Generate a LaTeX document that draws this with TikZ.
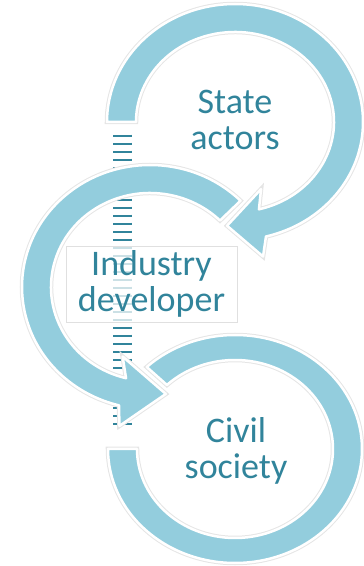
\documentclass[tikz,border=0pt]{standalone}
\usepackage{fontspec}
\setmainfont{Carlito}
\usepackage{xcolor}
\usepackage{tikz}
\definecolor{ringblue}{HTML}{93CDDD}
\definecolor{tealtext}{HTML}{31849B}

\begin{document}
\begin{tikzpicture}[x=1pt,y=1pt]
    \tikzset{ringband/.style={fill=ringblue, draw=white, line width=2.5pt, line join=round,
             preaction={draw=black!10, line width=4.5pt}},
             ringtext/.style={font=\fontsize{36}{36}\selectfont, text=tealtext, align=center, inner sep=0pt}}
    \useasboundingbox (0,0) rectangle (364,566);

    % centres
    \coordinate (ctop) at (235,444);
    \coordinate (cmid) at (150,279);
    \coordinate (cbot) at (235,117);

    % ladder
    \coordinate (ladtop) at (122,431.3);
    \coordinate (ladbot) at (122,141.3);
    \draw[tealtext, line width=19pt, dash pattern=on 2pt off 6pt] (ladtop) -- (ladbot);

    % bottom ring
    \path[ringband] ([shift={(cbot)}]180:127 and 114)
        arc[start angle=180, end angle=494, x radius=127, y radius=114]
        -- ([shift={(cbot)}]494:98 and 89)
        arc[start angle=494, end angle=180, x radius=98, y radius=89] -- cycle;

    % middle ring
    \path[ringband] ([shift={(cmid)}]45:128 and 122)
        arc[start angle=45, end angle=256, x radius=128, y radius=122]
        -- ([shift={(cmid)}]258:147 and 142)
        -- ([shift={(cmid)}]278:113.5 and 108)
        -- ([shift={(cmid)}]250:80 and 74)
        -- ([shift={(cmid)}]256:99 and 94)
        arc[start angle=256, end angle=45, x radius=99, y radius=94] -- cycle;

    % top ring
    \path[ringband] ([shift={(ctop)}]180:128 and 118)
        arc[start angle=180, end angle=-76, x radius=128, y radius=118]
        -- ([shift={(ctop)}]-79:147 and 137)
        -- ([shift={(ctop)}]-94:113.5 and 104)
        -- ([shift={(ctop)}]-71:80 and 71)
        -- ([shift={(ctop)}]-76:99 and 90)
        arc[start angle=-76, end angle=180, x radius=99, y radius=90] -- cycle;

    % texts
    \node[ringtext] (state) at (235,446) {State\\actors};
    \node[ringtext, draw=black!12, line width=0.5pt, fill=white, fill opacity=0.75, text opacity=1,
          minimum width=171pt, minimum height=76pt] (industry) at (151.5,282) {Industry\\developer};
    \node[ringtext] (civil) at (236,115) {Civil\\society};
\end{tikzpicture}
\end{document}
